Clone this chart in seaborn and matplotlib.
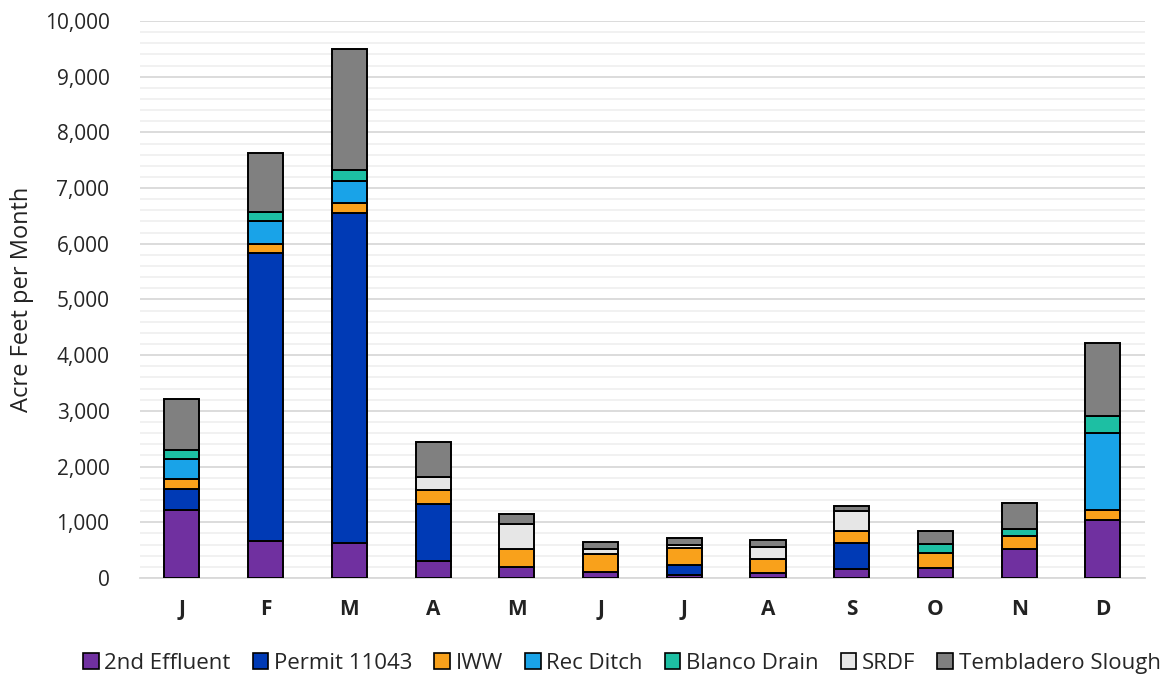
import numpy as np
import pandas as pd
import matplotlib
matplotlib.use("Agg")
import matplotlib.pyplot as plt
from matplotlib.patches import Patch
from matplotlib.ticker import MultipleLocator, FuncFormatter
import seaborn as sns

# Monthly sources (acre-feet)
months = ["Jan", "Feb", "Mar", "Apr", "May", "Jun",
          "Jul", "Aug", "Sep", "Oct", "Nov", "Dec"]
month_labels = ["J", "F", "M", "A", "M", "J", "J", "A", "S", "O", "N", "D"]

effluent_2nd = [1220, 670, 635, 310, 190, 110, 60, 95, 165, 180, 525, 1040]
permit_11043 = [370, 5160, 5915, 1020, 0, 0, 170, 0, 455, 0, 0, 0]
iww = [180, 165, 190, 250, 325, 320, 300, 240, 225, 275, 230, 180]
rec_ditch = [360, 420, 385, 0, 0, 0, 0, 0, 0, 0, 0, 1390]
blanco_drain = [170, 155, 200, 0, 0, 0, 0, 0, 0, 155, 130, 300]
srdf = [0, 0, 0, 240, 455, 85, 70, 225, 360, 0, 0, 0]
tembladero = [920, 1055, 2165, 630, 180, 130, 110, 120, 85, 240, 470, 1305]

series_names = ["2nd Effluent", "Permit 11043", "IWW", "Rec Ditch",
                "Blanco Drain", "SRDF", "Tembladero Slough"]
series_values = [effluent_2nd, permit_11043, iww, rec_ditch,
                 blanco_drain, srdf, tembladero]
series_colors = ["#7030A0", "#003AB5", "#F9A11B", "#19A3E8",
                 "#1DBFA3", "#E6E6E6", "#808080"]

sns.set_theme(style="white")
plt.rcParams["font.family"] = ["Open Sans", "DejaVu Sans"]

fig = plt.figure(figsize=(11.71, 6.76), dpi=100)
ax = fig.add_axes([0.1196, 0.145, 0.858, 0.824])

bottom = np.zeros(len(months))
for name, vals, col in zip(series_names, series_values, series_colors):
    df = pd.DataFrame({"month": months, "value": vals})
    sns.barplot(data=df, x="month", y="value", order=months, bottom=bottom,
                color=col, saturation=1, width=0.42, errorbar=None,
                edgecolor="black", linewidth=1.4, ax=ax, zorder=3)
    bottom = bottom + np.array(vals)

ax.set_ylim(0, 10000)
ax.set_xlim(-0.5, 11.5)
ax.yaxis.set_major_locator(MultipleLocator(1000))
ax.yaxis.set_minor_locator(MultipleLocator(200))
ax.yaxis.set_major_formatter(FuncFormatter(lambda v, p: f"{int(v):,}"))
ax.grid(axis="y", which="major", color="#D9D9D9", linewidth=1.3, zorder=0)
ax.grid(axis="y", which="minor", color="#F0F0F0", linewidth=1.3, zorder=0)
ax.set_axisbelow(True)

ax.set_xticks(range(len(months)))
ax.set_xticklabels(month_labels, fontsize=15, fontweight="bold", color="#222222")
ax.tick_params(axis="y", labelsize=15, colors="#262626", length=0, pad=22)
ax.tick_params(axis="x", length=0, pad=15)
ax.set_xlabel("")
ax.set_ylabel("Acre Feet per Month", fontsize=17, color="#222222", labelpad=8)

for s in ["top", "right", "left"]:
    ax.spines[s].set_visible(False)
ax.spines["bottom"].set_color("#D9D9D9")
ax.spines["bottom"].set_linewidth(1.3)

handles = [Patch(facecolor=c, edgecolor="black", linewidth=1.2, label=n)
           for n, c in zip(series_names, series_colors)]
fig.legend(handles=handles, loc="center", bbox_to_anchor=(0.531, 0.019),
           ncol=7, frameon=False, fontsize=16, handlelength=0.7,
           handleheight=0.7, handletextpad=0.25, columnspacing=1.0)

fig.savefig("out.png", dpi=100)
